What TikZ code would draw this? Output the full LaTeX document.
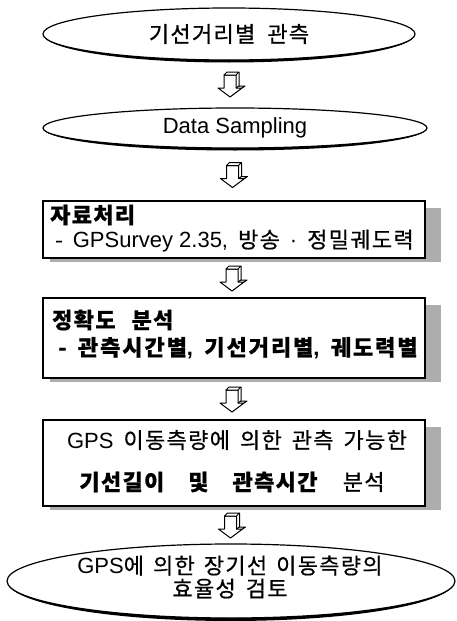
\documentclass[tikz,border=0pt]{standalone}
\usepackage{fontspec}
\setmainfont{Noto Sans CJK KR}[LetterSpace=6, WordSpace=1.6, RawFeature={embolden=0.6}]
\newfontfamily\lat{Liberation Sans}
\usetikzlibrary{shapes.geometric,calc}
\newcommand\botthick[4]{%
  \fill ($(#1.center)+(-#2,0)$) arc[start angle=180,end angle=360,x radius=#2,y radius=#3+#4]
        arc[start angle=0,end angle=-180,x radius=#2,y radius=#3] -- cycle;}
\newcommand\cm{{\lat,}}
\begin{document}
\begin{tikzpicture}[x=1pt,y=1pt,font=\fontsize{22}{23}\selectfont]
\useasboundingbox (0,0) rectangle (456,-621);
\tikzset{
  oval/.style={ellipse, draw, line width=1.2pt, inner sep=0pt, fill=white},
  stepbox/.style={draw, line width=1.2pt, minimum width=382pt, inner sep=0pt, fill=white},
  txt/.style={inner sep=0pt, anchor=west},
  shadowc/.style={fill=black!32},
  pics/blockarrow/.style={code={
    \draw[line width=1pt, line join=round, fill=white] (-8,9) -- (-8,-4) -- (-14,-4) -- (-2,-13) -- (10,-4) -- (4,-4) -- (4,9) -- cycle;
    \draw[line width=1pt, line join=round, fill=white] (-8,9) -- (-5,12) -- (7,12) -- (4,9) -- cycle;
    \draw[line width=1pt, line join=round] (7,12) -- (7,-2) -- (4,-4);
    \draw[line width=1pt, line join=round] (7,-2) -- (13,-2) -- (10,-4);
    \fill (10,-4) -- (13,-2) -- (-2,-13) -- cycle;
  }}
}
% ovals
\node[oval, minimum width=372pt, minimum height=52pt] (e1) at (229,-34) {\spaceskip=12pt 기선거리별 관측};
\botthick{e1}{186}{26}{2.5}
\node[oval, minimum width=384pt, minimum height=40pt] (e2) at (235,-128) {{\lat\fontsize{22}{24}\selectfont Data Sampling}};
\botthick{e2}{192}{20}{2.5}
% box 1
\node[stepbox, minimum height=57pt] (b1) at (234,-229.5) {};
\fill[shadowc] ($(b1.north east)+(0,-8)$) rectangle ($(b1.south east)+(15,-3)$);
\fill[shadowc] ($(b1.south west)+(8,0)$) rectangle ($(b1.south east)+(15,-3)$);
\node[txt] (b1t1) at (50,-215) {\textbf{자료처리}};
\node[txt] (b1t2) at (55,-241) {- {\lat GPSurvey 2.35,} 방송 {\lat·} 정밀궤도력};
% box 2
\node[stepbox, minimum height=80pt] (b2) at (234,-338) {};
\fill[shadowc] ($(b2.north east)+(0,-8)$) rectangle ($(b2.south east)+(15,-3)$);
\fill[shadowc] ($(b2.south west)+(8,0)$) rectangle ($(b2.south east)+(15,-3)$);
\node[txt] (b2t1) at (52,-320) {\spaceskip=16pt\textbf{정확도 분석}};
\node[txt] (b2t2) at (58,-348) {\addfontfeatures{LetterSpace=9}\textbf{- 관측시간별\cm{} 기선거리별\cm{} 궤도력별}};
% box 3
\node[stepbox, minimum height=86pt] (b3) at (234,-463) {};
\fill[shadowc] ($(b3.north east)+(0,-8)$) rectangle ($(b3.south east)+(15,-3)$);
\fill[shadowc] ($(b3.south west)+(8,0)$) rectangle ($(b3.south east)+(15,-3)$);
\node[inner sep=0pt] (b3t1) at (237,-440) {\spaceskip=10pt{\lat GPS} 이동측량에 의한 관측 가능한};
\node[inner sep=0pt] (b3t2) at (232,-482) {\spaceskip=24pt\textbf{기선길이 및 관측시간} 분석};
% bottom oval
\node[oval, minimum width=448pt, minimum height=74pt] (e5) at (231,-581) {};
\botthick{e5}{224}{37}{3}
\node[inner sep=0pt, align=center] (e5t) at (230,-577) {\spaceskip=9pt{\lat GPS}에 의한 장기선 이동측량의\\효율성 검토};
% arrows
\path (e1.south) -- (e2.north) coordinate[midway] (m1);
\path (e2.south) -- (b1.north) coordinate[midway] (m2);
\path (b1.south) -- (b2.north) coordinate[midway] (m3);
\path (b2.south) -- (b3.north) coordinate[midway] (m4);
\path (b3.south) -- (e5.north) coordinate[midway] (m5);
\foreach \m in {m1,m2,m3,m4,m5} { \pic at (\m) {blockarrow}; }
\end{tikzpicture}
\end{document}
